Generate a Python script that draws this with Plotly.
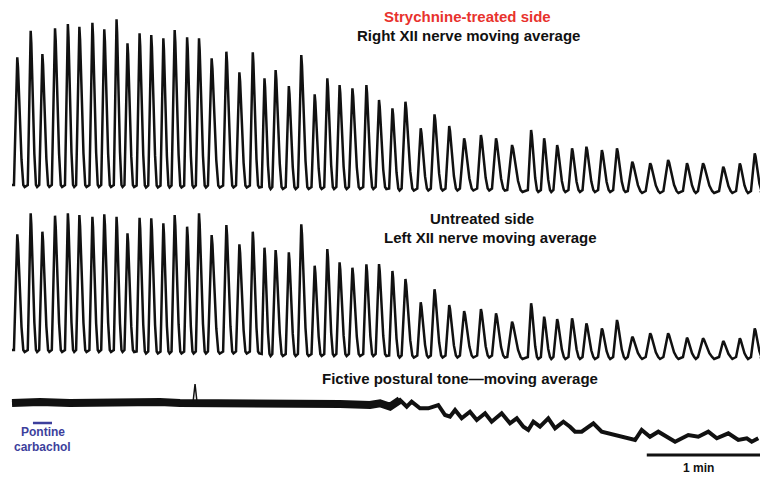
import plotly.graph_objects as go

# ---------------- data ----------------
# burst peak times (s) shared by both hypoglossal (XII) nerve recordings
burst_t = [2.8, 9.9, 16.1, 22.8, 29.6, 35.7, 42.6, 48.9, 55.4, 61.2,
           67.6, 73.8, 80.2, 86.2, 92.8, 99.1, 105.8, 113.6, 120.5, 127.6,
           133.8, 139.7, 146.7, 153.3, 160.4, 167.1, 173.6, 180.4, 187.8, 194.5,
           201.6, 208.5, 216.6, 223.9, 231.7, 239.6, 248.5, 256.5, 265.0, 275.1,
           282.0, 288.9, 296.8, 304.4, 312.6, 320.6, 328.7, 338.2, 347.7, 357.7,
           366.2, 376.9, 385.7, 393.6]

# Right XII (strychnine-treated) peak levels and trough levels (a.u.)
right_peak = [126.7, 153.3, 130, 155.7, 160, 157.3, 161.3, 154.7, 164.7, 140.7,
              150.7, 149, 145.7, 154, 146.7, 145.7, 125.7, 132.3, 111.7, 131.7,
              105.7, 114, 98, 129, 89.7, 105.7, 99, 95.7, 99, 84,
              75.7, 82.3, 55.7, 69.7, 58, 45.7, 49, 45.7, 39, 54,
              45.7, 39, 35.7, 37.3, 34, 35.7, 22.3, 20.7, 24, 20.7,
              20.7, 17.3, 20.7, 30.7]
right_trough = [-1] * 10 + [-1.5] * 10 + [-3] * 10 + [-4.5] * 8 + [-6] * 8 + [-7] * 8

# Left XII (untreated) peak levels and trough levels (a.u.)
left_peak = [115.7, 136.7, 118.3, 134.3, 136.7, 135, 133.3, 135.7, 133.3, 116.7,
             132.3, 131.7, 126.7, 135, 123.3, 136.7, 115, 125, 105.7, 118.3,
             102.3, 100, 97.7, 125.7, 84.3, 101, 87.7, 82.3, 85.7, 86,
             79, 71, 47.7, 60.7, 45, 39, 41, 36.7, 28.3, 46.7,
             33.3, 31, 31.7, 26.7, 21.7, 30, 13.3, 16.7, 16.7, 12.3,
             11.7, 9, 11.7, 21.7]
left_trough = [0] * 10 + [-1.5] * 10 + [-4] * 10 + [-5.5] * 8 + [-7] * 16

# Fictive postural tone moving average (time s, level a.u.)
tone_t = [0.0, 14.8, 30.7, 46.6, 62.5, 78.4, 89.0, 95.9, 97.0, 98.1,
          115.5, 131.4, 152.6, 173.8, 189.7, 195.0, 200.3, 205.6, 209.2, 211.8,
          216.2, 220.6, 225.9, 229.5, 232.1, 234.8, 238.3, 242.7, 246.3, 250.7,
          254.2, 259.5, 263.9, 267.5, 271.0, 273.6, 276.3, 279.8, 284.2, 287.8,
          292.2, 295.7, 298.4, 301.9, 308.1, 312.5, 316.0, 321.3, 326.6, 330.2,
          333.7, 338.1, 342.5, 347.8, 351.4, 358.4, 363.7, 369.0, 373.5, 379.6,
          384.9, 389.4, 392.0, 395.5]
tone_v = [0, 1, 0, 1, 2, 1, 0, 0, 19, 0,
          1, 0, 0, -1, -2, -0.3, -3.7, 3, -3.7, 1.3,
          -5.3, -5.3, -2, -12, -13.7, -7, -15.3, -8.7, -17, -10.3,
          -18.7, -10.3, -20.3, -15.3, -23.7, -27, -18.7, -23.7, -15.3, -25.3,
          -18.7, -23.7, -28.7, -28.7, -20.3, -28.7, -30.3, -32, -35.3, -37,
          -27, -33.7, -28.7, -35.3, -38.7, -32, -33.7, -28.7, -35.3, -30.3,
          -37, -35.3, -38.7, -35.3]

carbachol_t = [11.1, 21.2]     # pontine carbachol injection (s)
scalebar_t = [336.4, 396.4]    # 1 min scale bar (s)

# ---------------- build burst waveforms from the peak readings ----------------
def burst_trace(times, peaks, troughs, t_end):
    xs, ys = [0.0], [troughs[0]]
    n = len(times)
    for i in range(n):
        t, P, b = times[i], peaks[i], troughs[i]
        T = (times[i + 1] - t) if i < n - 1 else (t - times[i - 1])
        r, d, h = 0.25 * T, 0.45 * T, P - b
        pts = [(-r, 0.0), (-0.55 * r, 0.45), (-0.15 * r, 0.9), (0.0, 1.0),
               (0.12 * d, 0.92), (0.4 * d, 0.55), (0.7 * d, 0.2), (d, 0.0)]
        for dt, f in pts:
            xs.append(t + dt)
            ys.append(b + f * h)
        xs.append(t + d + 0.1 * T)
        ys.append(b - 2)
    xs.append(t_end)
    ys.append(troughs[-1])
    return xs, ys

T_END = 396.4
rx, ry = burst_trace(burst_t, right_peak, right_trough, T_END)
lx, ly = burst_trace(burst_t, left_peak, left_trough, T_END)

fig = go.Figure()
ink = "#111111"
fig.add_trace(go.Scatter(x=rx, y=ry, mode="lines", yaxis="y",
                         line=dict(color=ink, width=2.5), hoverinfo="skip"))
fig.add_trace(go.Scatter(x=lx, y=ly, mode="lines", yaxis="y2",
                         line=dict(color=ink, width=2.5), hoverinfo="skip"))

# tone recording: thin spike artefact drawn separately from the thick band
spike_i = tone_v.index(max(tone_v))
spike_t = tone_t[spike_i - 1:spike_i + 2]
spike_v = tone_v[spike_i - 1:spike_i + 2]
base_t = [t for i, t in enumerate(tone_t) if i != spike_i]
base_v = [v for i, v in enumerate(tone_v) if i != spike_i]
early_t = [t for t in base_t if t <= 206]
early_v = base_v[:len(early_t)]
fig.add_trace(go.Scatter(x=early_t, y=early_v, mode="lines", yaxis="y3",
                         line=dict(color=ink, width=8), hoverinfo="skip"))
fig.add_trace(go.Scatter(x=base_t, y=base_v, mode="lines", yaxis="y3",
                         line=dict(color=ink, width=4), hoverinfo="skip"))
fig.add_trace(go.Scatter(x=spike_t, y=spike_v, mode="lines", yaxis="y3",
                         line=dict(color=ink, width=1.5), hoverinfo="skip"))
fig.add_trace(go.Scatter(x=carbachol_t, y=[-20, -20], mode="lines", yaxis="y3",
                         line=dict(color="#3d3f9c", width=2.5), hoverinfo="skip"))
fig.add_trace(go.Scatter(x=scalebar_t, y=[-52, -52], mode="lines", yaxis="y3",
                         line=dict(color=ink, width=3), hoverinfo="skip"))

H = 477.0
W = 760.0
def py(p):
    return 1 - p / H

hid = dict(visible=False, showgrid=False, zeroline=False, fixedrange=True)
fig.update_layout(
    width=760, height=477,
    margin=dict(l=0, r=0, t=0, b=0),
    paper_bgcolor="white", plot_bgcolor="white",
    showlegend=False,
    xaxis=dict(range=[-6.36, T_END], domain=[0, 1], **hid),
    yaxis=dict(range=[-16, 184], domain=[py(200), 1], **hid),
    yaxis2=dict(range=[-20, 155], domain=[py(370), py(195)], anchor="x", **hid),
    yaxis3=dict(range=[-74, 33], domain=[0, py(370)], anchor="x", **hid),
)

font = "Liberation Sans, Arial, sans-serif"
def label(text, xpx, ypx, color="#111111", size=15):
    fig.add_annotation(x=xpx / W, y=py(ypx), xref="paper", yref="paper",
                       text="<b>" + text + "</b>", showarrow=False,
                       xanchor="center", yanchor="middle",
                       font=dict(family=font, size=size, color=color))

label("Strychnine-treated side", 467, 17, color="#e8322d")
label("Right XII nerve moving average", 468, 35)
label("Untreated side", 482, 218)
label("Left XII nerve moving average", 491, 237)
label("Fictive postural tone\u2014moving average", 460, 378)
label("Pontine", 43, 432, color="#3d3f9c", size=12)
label("carbachol", 42, 447, color="#3d3f9c", size=12)
label("1 min", 698, 468, size=12)

fig.write_html("out.html", config={"displayModeBar": False},
               post_script="document.body.style.margin='0';"
                           "document.body.style.overflow='hidden';")
